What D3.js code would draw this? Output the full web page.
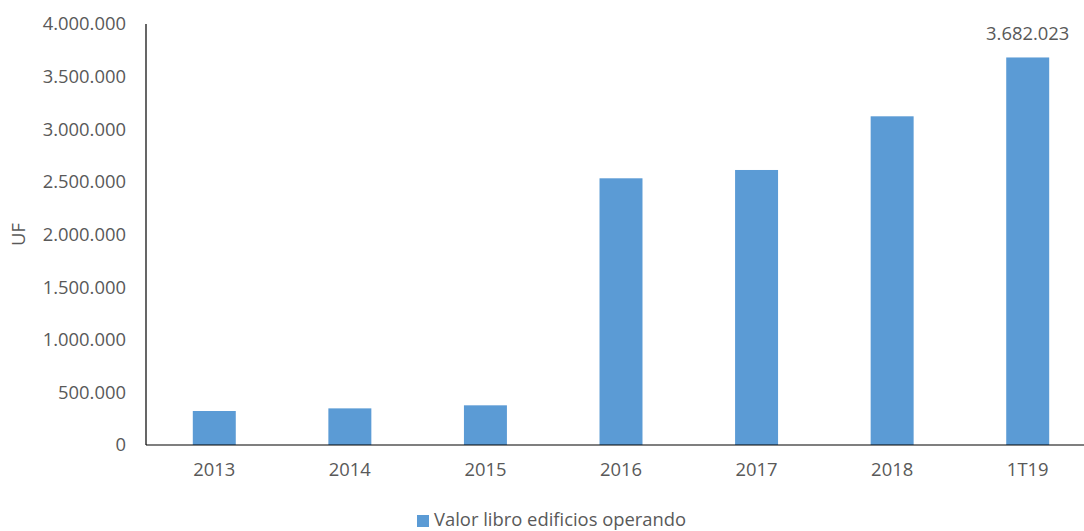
<!DOCTYPE html>
<html>
<head>
<meta charset="utf-8">
<script src="https://cdn.jsdelivr.net/npm/d3@7"></script>
<style>
  html, body { margin: 0; padding: 0; background: #fff; }
  svg { display: block; }
  text { font-family: "Open Sans", "Noto Sans", sans-serif; fill: #595959; }
</style>
</head>
<body>
<svg id="chart" width="1084" height="531"></svg>
<script>
// Book value of operating buildings, in UF
const categories = ["2013", "2014", "2015", "2016", "2017", "2018", "1T19"];
const values = [323000, 348000, 377000, 2534000, 2613000, 3123000, 3682023];
const yTicks = [0, 500000, 1000000, 1500000, 2000000, 2500000, 3000000, 3500000, 4000000];
const seriesName = "Valor libro edificios operando";
const axisTitle = "UF";
const labelledIndex = 6; // only the last bar carries a value label

const W = 1084, H = 531;
const plotLeft = 146.5, plotRight = 1095.5, plotTop = 24, plotBottom = 445;
const barColor = "#5B9BD5";
const fontSize = 18.4;

const locale = d3.formatLocale({ decimal: ",", thousands: ".", grouping: [3], currency: ["", ""] });
const fmt = locale.format(",.0f");

const svg = d3.select("#chart");

const x = d3.scaleBand()
  .domain(categories)
  .range([plotLeft, plotRight])
  .paddingInner(0.683)
  .paddingOuter(0.3415);

const y = d3.scaleLinear()
  .domain([0, 4000000])
  .range([plotBottom, plotTop]);

// y axis: labels only, plus the vertical axis line
const yAxis = d3.axisLeft(y)
  .tickValues(yTicks)
  .tickFormat(fmt)
  .tickSize(0)
  .tickPadding(20);

const gy = svg.append("g")
  .attr("transform", `translate(${plotLeft - 0.5},0)`)
  .call(yAxis);
gy.select(".domain").remove();
gy.selectAll("text")
  .style("font-size", fontSize + "px")
  .attr("fill", "#595959");

// bars
svg.append("g")
  .selectAll("rect")
  .data(values)
  .join("rect")
  .attr("x", (d, i) => x(categories[i]))
  .attr("width", x.bandwidth())
  .attr("y", d => y(d))
  .attr("height", d => y(0) - y(d))
  .attr("fill", barColor);

// axis lines
svg.append("line")
  .attr("x1", plotLeft - 0.5).attr("x2", plotLeft - 0.5)
  .attr("y1", y(4000000)).attr("y2", y(0))
  .attr("stroke", "#000").attr("stroke-width", 1.2);

const xAxis = d3.axisBottom(x).tickSize(0).tickPadding(18);
const gx = svg.append("g")
  .attr("transform", `translate(0,${y(0)})`)
  .call(xAxis);
gx.select(".domain")
  .attr("d", `M${plotLeft - 0.5},0H${W}`)
  .attr("stroke", "#000")
  .attr("stroke-width", 1.2);
gx.selectAll("text")
  .style("font-size", fontSize + "px")
  .attr("fill", "#595959");

// value label on the last bar
svg.append("text")
  .attr("x", x(categories[labelledIndex]) + x.bandwidth() / 2)
  .attr("y", y(values[labelledIndex]) - 17)
  .attr("text-anchor", "middle")
  .style("font-size", fontSize + "px")
  .text(fmt(values[labelledIndex]));

// axis title
svg.append("text")
  .attr("transform", `translate(${25},${(plotTop + plotBottom) / 2}) rotate(-90)`)
  .attr("text-anchor", "middle")
  .style("font-size", fontSize + "px")
  .text(axisTitle);

// legend
const legend = svg.append("g").attr("transform", "translate(417,515)");
legend.append("rect")
  .attr("width", 12).attr("height", 12)
  .attr("fill", barColor);
legend.append("text")
  .attr("x", 17).attr("y", 11)
  .style("font-size", fontSize + "px")
  .text(seriesName);
</script>
</body>
</html>
